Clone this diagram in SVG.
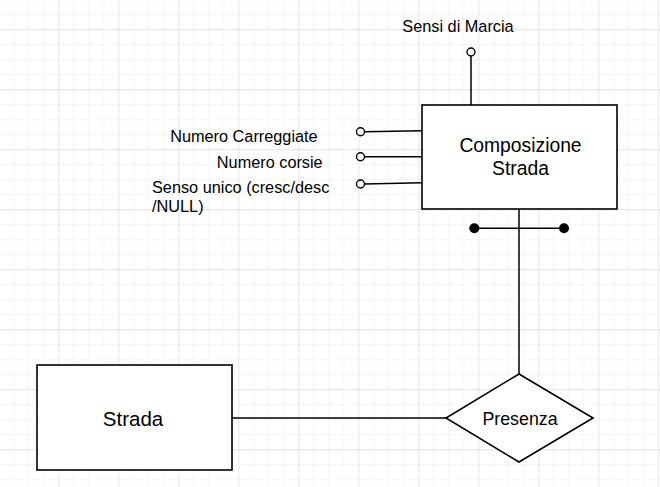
<svg xmlns="http://www.w3.org/2000/svg" width="660" height="487" viewBox="0 0 660 487">
<style>
.ent{fill:#fff;stroke:#000;stroke-width:1.6}
.ln{fill:none;stroke:#000;stroke-width:1.5}
.oc{fill:#fff;stroke:#000;stroke-width:1.4}
.t{font-family:"Liberation Sans",Arial,sans-serif;fill:#000}
</style>
<defs>
<pattern id="minor" patternUnits="userSpaceOnUse" x="13.3" y="14.3" width="15" height="15">
<path d="M0 0V15M0 0H15" stroke="#f1f1f1" stroke-width="1.3" fill="none"/>
</pattern>
<pattern id="major" patternUnits="userSpaceOnUse" x="58.3" y="29.3" width="60" height="60">
<path d="M0 0V60M0 0H60" stroke="#e0e0e0" stroke-width="1.3" fill="none"/>
</pattern>
</defs>
<rect width="660" height="487" fill="#fff"/>
<rect width="660" height="487" fill="url(#minor)"/>
<rect width="660" height="487" fill="url(#major)"/>
<g id="connectors">
<line class="ln" x1="471" y1="105" x2="471" y2="56"/>
<line class="ln" x1="364.5" y1="131.7" x2="422" y2="130.7"/>
<line class="ln" x1="364.5" y1="156.7" x2="422" y2="156.7"/>
<line class="ln" x1="364.5" y1="184" x2="422" y2="182.7"/>
<line class="ln" x1="519" y1="209" x2="519" y2="374"/>
<line class="ln" x1="474.3" y1="228.3" x2="564" y2="228.3"/>
<line class="ln" x1="232" y1="418" x2="446" y2="418"/>
<circle cx="474.3" cy="228.3" r="5" fill="#000"/>
<circle cx="564" cy="228.3" r="5" fill="#000"/>
</g>
<g id="composizione-strada">
<rect class="ent" x="422" y="105" width="195" height="104"/>
<text class="t" x="520.5" y="152" font-size="19.3" text-anchor="middle">Composizione</text>
<text class="t" x="520.5" y="175" font-size="19.3" text-anchor="middle">Strada</text>
</g>
<g id="attr-sensi">
<circle class="oc" cx="471" cy="52" r="4"/>
<text class="t" x="458" y="32" font-size="16.3" text-anchor="middle">Sensi di Marcia</text>
</g>
<g id="attr-carreggiate">
<circle class="oc" cx="360.5" cy="131.7" r="4"/>
<text class="t" x="317.7" y="142" font-size="16.3" text-anchor="end">Numero Carreggiate</text>
</g>
<g id="attr-corsie">
<circle class="oc" cx="360.5" cy="156.7" r="4"/>
<text class="t" x="322.7" y="168" font-size="16.3" text-anchor="end">Numero corsie</text>
</g>
<g id="attr-senso">
<circle class="oc" cx="360.5" cy="184" r="4"/>
<text class="t" x="152" y="193" font-size="16.3">Senso unico (cresc/desc</text>
<text class="t" x="152" y="212" font-size="16.3">/NULL)</text>
</g>
<g id="strada">
<rect class="ent" x="37" y="365" width="195" height="105"/>
<text class="t" x="133" y="426" font-size="20.5" text-anchor="middle">Strada</text>
</g>
<g id="presenza">
<polygon class="ent" points="519,374 593,418 519,462 446,418"/>
<text class="t" x="520" y="425" font-size="17.8" text-anchor="middle">Presenza</text>
</g>
</svg>
